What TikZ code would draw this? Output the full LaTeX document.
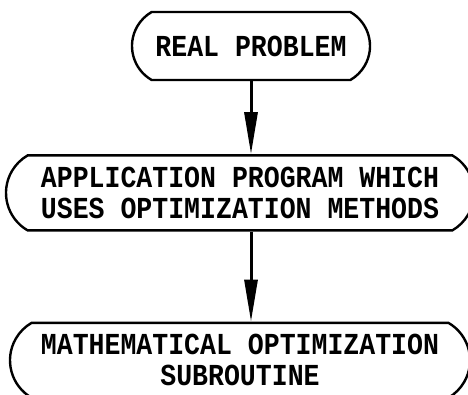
\documentclass[tikz,border=0pt]{standalone}
\usepackage{fontspec}
\newfontfamily\plotfont[FakeStretch=0.87]{Liberation Mono}
\usetikzlibrary{arrows.meta,positioning,shapes.misc}

\begin{document}
\begin{tikzpicture}[
  x=1pt,y=1pt,
  stadium/.style={draw,line width=2.4pt,rounded rectangle,rounded rectangle arc length=120,
                  inner sep=0pt,align=center,
                  font=\plotfont\bfseries\fontsize{30.5}{31}\selectfont},
  ar/.style={-{Triangle[length=42pt,width=13pt]},line width=3pt}
]
\useasboundingbox (0,0) rectangle (468,394);
\node[stadium,minimum width=238pt,minimum height=68pt] (real) at (251,348) {REAL PROBLEM};
\node[stadium,minimum width=468pt,minimum height=75pt,below=73pt of real,xshift=-11pt] (app)
  {APPLICATION PROGRAM WHICH\\USES OPTIMIZATION METHODS};
\node[stadium,minimum width=460pt,minimum height=75pt,below=90pt of app] (sub)
  {MATHEMATICAL OPTIMIZATION\\SUBROUTINE};

\draw[ar] (real.south) -- (real.south |- app.north);
\draw[ar] (real.south |- app.south) -- (real.south |- sub.north);
\end{tikzpicture}
\end{document}
